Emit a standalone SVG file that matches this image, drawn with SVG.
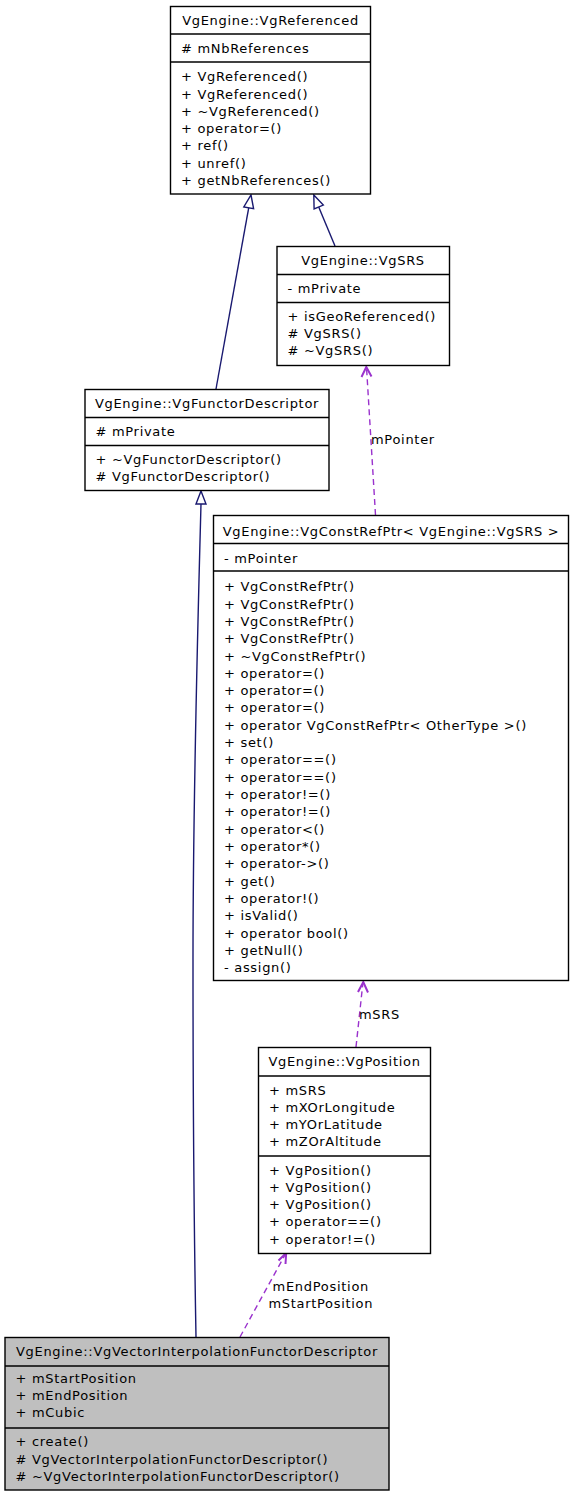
<svg xmlns="http://www.w3.org/2000/svg" width="573" height="1496" viewBox="0 0 573 1496">
<style>
text{font-family:"DejaVu Sans","Liberation Sans",sans-serif;font-size:13px;letter-spacing:0.7px;fill:#000}
.t{text-anchor:middle}
.box{fill:#fff;stroke:#000;stroke-width:1.4}
.gray{fill:#bfbfbf}
.div{stroke:#000;stroke-width:1.4}
.inh{fill:none;stroke:#191970;stroke-width:1.4}
.tri{fill:#fff;stroke:#191970;stroke-width:1.4}
.use{fill:none;stroke:#9a32cd;stroke-width:1.4;stroke-dasharray:6,4}
.vee{fill:none;stroke:#9a32cd;stroke-width:2;stroke-linejoin:miter}
</style>
<rect width="573" height="1496" fill="#fff"/>
<g id="connectors">
  <path class="inh" d="M216,389 L248.7,207.8"/>
  <polygon class="tri" points="251,195 253.6,208.7 243.8,206.9"/>
  <path class="inh" d="M335,246 L318.7,207"/>
  <polygon class="tri" points="313.8,195 323.3,205.1 314.1,208.9"/>
  <path class="inh" d="M196,1337 C193.5,1200 193,1050 193,960 C193,800 197,650 201,504"/>
  <polygon class="tri" points="201,491 206,504 196,504"/>
  <path class="use" d="M375.5,515 L366.5,367"/>
  <polyline class="vee" points="361.5,377 366.3,367 371.5,376.5"/>
  <text x="371" y="443.8">mPointer</text>
  <path class="use" d="M356,1047 L363,982"/>
  <polyline class="vee" points="358,992 363.3,982 368,992.5"/>
  <text x="359" y="1018.5">mSRS</text>
  <path class="use" d="M240,1337 L286,1253"/>
  <polyline class="vee" points="278.5,1260.5 286.2,1253 285.5,1264"/>
  <text class="t" x="320.8" y="1290.5">mEndPosition</text>
  <text class="t" x="320.8" y="1307.8">mStartPosition</text>
</g>
<g id="VgReferenced">
  <rect class="box" x="170.5" y="6.5" width="200" height="187.5"/>
  <line class="div" x1="170.5" y1="34" x2="370.5" y2="34"/>
  <line class="div" x1="170.5" y1="62" x2="370.5" y2="62"/>
  <text class="t" x="270.5" y="25">VgEngine::VgReferenced</text>
  <text x="181" y="53">#  mNbReferences</text>
  <text x="181" y="81.2">+  VgReferenced()</text>
  <text x="181" y="98.5">+  VgReferenced()</text>
  <text x="181" y="115.8">+  ~VgReferenced()</text>
  <text x="181" y="133.1">+  operator=()</text>
  <text x="181" y="150.4">+  ref()</text>
  <text x="181" y="167.7">+  unref()</text>
  <text x="181" y="185">+  getNbReferences()</text>
</g>
<g id="VgSRS">
  <rect class="box" x="277" y="246.5" width="172.5" height="119"/>
  <line class="div" x1="277" y1="274.5" x2="449.5" y2="274.5"/>
  <line class="div" x1="277" y1="302.5" x2="449.5" y2="302.5"/>
  <text class="t" x="363" y="265">VgEngine::VgSRS</text>
  <text x="287.5" y="292.8">-  mPrivate</text>
  <text x="287.5" y="320.7">+  isGeoReferenced()</text>
  <text x="287.5" y="338">#  VgSRS()</text>
  <text x="287.5" y="355.3">#  ~VgSRS()</text>
</g>
<g id="VgFunctorDescriptor">
  <rect class="box" x="85" y="389.5" width="244" height="101"/>
  <line class="div" x1="85" y1="417.5" x2="329" y2="417.5"/>
  <line class="div" x1="85" y1="445.5" x2="329" y2="445.5"/>
  <text class="t" x="207" y="407.8">VgEngine::VgFunctorDescriptor</text>
  <text x="95.5" y="435.8">#  mPrivate</text>
  <text x="95.5" y="463.8">+  ~VgFunctorDescriptor()</text>
  <text x="95.5" y="481.1">#  VgFunctorDescriptor()</text>
</g>
<g id="VgConstRefPtr">
  <rect class="box" x="213.5" y="515.5" width="355" height="465"/>
  <line class="div" x1="213.5" y1="543.5" x2="568.5" y2="543.5"/>
  <line class="div" x1="213.5" y1="571" x2="568.5" y2="571"/>
  <text class="t" x="391" y="535.5">VgEngine::VgConstRefPtr&lt; VgEngine::VgSRS &gt;</text>
  <text x="224" y="562.8">-  mPointer</text>
  <text x="224" y="591.2">+  VgConstRefPtr()</text>
  <text x="224" y="608.5">+  VgConstRefPtr()</text>
  <text x="224" y="625.8">+  VgConstRefPtr()</text>
  <text x="224" y="643.2">+  VgConstRefPtr()</text>
  <text x="224" y="660.5">+  ~VgConstRefPtr()</text>
  <text x="224" y="677.8">+  operator=()</text>
  <text x="224" y="695.1">+  operator=()</text>
  <text x="224" y="712.4">+  operator=()</text>
  <text x="224" y="729.8">+  operator VgConstRefPtr&lt; OtherType &gt;()</text>
  <text x="224" y="747.1">+  set()</text>
  <text x="224" y="764.4">+  operator==()</text>
  <text x="224" y="781.7">+  operator==()</text>
  <text x="224" y="799">+  operator!=()</text>
  <text x="224" y="816.4">+  operator!=()</text>
  <text x="224" y="833.7">+  operator&lt;()</text>
  <text x="224" y="851">+  operator*()</text>
  <text x="224" y="868.3">+  operator-&gt;()</text>
  <text x="224" y="885.6">+  get()</text>
  <text x="224" y="903">+  operator!()</text>
  <text x="224" y="920.3">+  isValid()</text>
  <text x="224" y="937.6">+  operator bool()</text>
  <text x="224" y="954.9">+  getNull()</text>
  <text x="224" y="972.2">-  assign()</text>
</g>
<g id="VgPosition">
  <rect class="box" x="258.5" y="1047.5" width="172" height="206"/>
  <line class="div" x1="258.5" y1="1076" x2="430.5" y2="1076"/>
  <line class="div" x1="258.5" y1="1156" x2="430.5" y2="1156"/>
  <text class="t" x="344.5" y="1066.2">VgEngine::VgPosition</text>
  <text x="269" y="1094.5">+  mSRS</text>
  <text x="269" y="1111.8">+  mXOrLongitude</text>
  <text x="269" y="1129.1">+  mYOrLatitude</text>
  <text x="269" y="1146.4">+  mZOrAltitude</text>
  <text x="269" y="1174.5">+  VgPosition()</text>
  <text x="269" y="1191.8">+  VgPosition()</text>
  <text x="269" y="1209.1">+  VgPosition()</text>
  <text x="269" y="1226.4">+  operator==()</text>
  <text x="269" y="1243.7">+  operator!=()</text>
</g>
<g id="VgVectorInterpolationFunctorDescriptor">
  <rect class="box gray" x="5" y="1337.5" width="384" height="152.5"/>
  <line class="div" x1="5" y1="1366" x2="389" y2="1366"/>
  <line class="div" x1="5" y1="1428" x2="389" y2="1428"/>
  <text class="t" x="197" y="1355.5">VgEngine::VgVectorInterpolationFunctorDescriptor</text>
  <text x="15.5" y="1382.8">+  mStartPosition</text>
  <text x="15.5" y="1400.1">+  mEndPosition</text>
  <text x="15.5" y="1417.4">+  mCubic</text>
  <text x="15.5" y="1446.2">+  create()</text>
  <text x="15.5" y="1463.5">#  VgVectorInterpolationFunctorDescriptor()</text>
  <text x="15.5" y="1480.8">#  ~VgVectorInterpolationFunctorDescriptor()</text>
</g>
</svg>
